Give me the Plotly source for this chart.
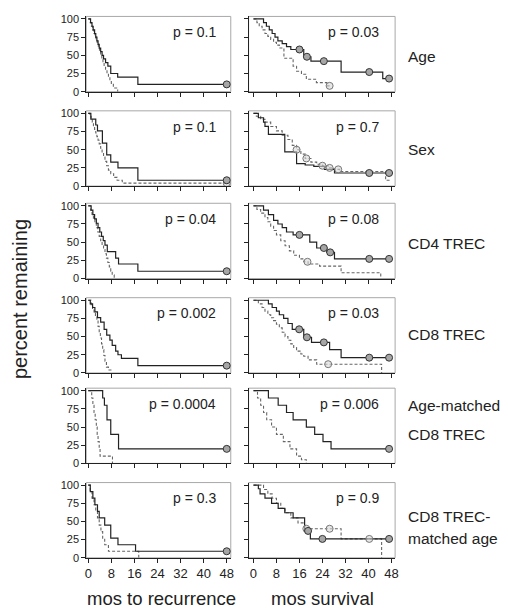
import plotly.graph_objects as go

# page body has an 8px margin: figure is drawn 8px in from the window corner
OFF = 8
W, H = 500, 604
FONT = "Liberation Sans, Arial, sans-serif"

month_ticks = [0, 8, 16, 24, 32, 40, 48]
pct_ticks = [0, 25, 50, 75, 100]

row_labels = [["Age"], ["Sex"], ["CD4 TREC"], ["CD8 TREC"],
              ["Age-matched", "CD8 TREC"], ["CD8 TREC-", "matched age"]]
p_recurrence = ["0.1", "0.1", "0.04", "0.002", "0.0004", "0.3"]
p_survival = ["0.03", "0.7", "0.08", "0.03", "0.006", "0.9"]

# ---- Age ----
age_rec_solid_t = [0, 0.8, 1.3, 1.7, 2.2, 2.6, 3.0, 3.4, 3.8, 4.3, 4.8, 5.3, 6.0, 6.8, 7.8, 10.2, 17.2, 48]
age_rec_solid_s = [100, 95, 90, 85, 80, 75, 70, 65, 60, 55, 50, 45, 40, 35, 25, 20, 10, 10]
age_rec_solid_c = [48]
age_rec_dash_t = [0, 0.7, 1.1, 1.5, 1.9, 2.3, 2.7, 3.1, 3.5, 3.9, 4.3, 4.7, 5.1, 5.5, 6.0, 6.5, 7.0, 7.5, 8.0, 8.7, 10.2]
age_rec_dash_s = [100, 95, 90, 85, 80, 75, 70, 65, 60, 55, 50, 45, 40, 35, 30, 25, 20, 15, 10, 5, 0]
age_rec_dash_c = []

age_surv_solid_t = [0, 3.5, 4.5, 5.5, 6.5, 7.5, 8.5, 10, 11.5, 13, 17.5, 20, 30.5, 45, 48]
age_surv_solid_s = [100, 95, 90, 85, 80, 75, 70, 66, 62, 58, 48, 42, 27, 18, 18]
age_surv_solid_c = [16, 18.6, 24.5, 40.3, 47.2]
age_surv_dash_t = [0, 1.2, 2, 3, 4, 5, 6, 7, 8, 9, 10.6, 13.8, 15, 16.7, 18.4, 21.9, 25.5, 27]
age_surv_dash_s = [100, 95, 90, 85, 80, 76, 72, 68, 64, 60, 46, 35, 28, 24, 17, 12.5, 8, 8]
age_surv_dash_c = [26.5]

# ---- Sex ----
sex_rec_solid_t = [0, 0.9, 2.6, 3.2, 4.9, 6.4, 7.8, 10.3, 17.2, 48]
sex_rec_solid_s = [100, 92, 84, 76, 59, 43, 33, 25, 8, 8]
sex_rec_solid_c = [48]
sex_rec_dash_t = [0, 0.6, 1.0, 1.4, 1.8, 2.2, 2.6, 3.0, 3.4, 3.8, 4.3, 4.8, 5.3, 5.8, 6.4, 7.0, 7.8, 8.8, 10, 11.8, 48]
sex_rec_dash_s = [100, 96, 92, 88, 83, 78, 73, 68, 63, 58, 52, 46, 40, 34, 28, 22, 17, 12, 8, 4, 4]
sex_rec_dash_c = [48]

sex_surv_solid_t = [0, 1.7, 3.5, 4, 5.2, 10.9, 15, 18, 21, 24.7, 28.2, 48]
sex_surv_solid_s = [100, 94, 88, 82, 71, 47, 31, 29, 27, 23, 18, 18]
sex_surv_solid_c = [40.3, 47.2]
sex_surv_dash_t = [0, 1, 2.5, 4, 6, 8, 10, 12, 13.5, 15, 16.5, 18, 20, 22, 24, 26, 28, 30, 46, 48]
sex_surv_dash_s = [100, 96, 92, 88, 82, 76, 70, 64, 56, 50, 44, 38, 33, 30, 28, 25, 23, 20, 8, 8]
sex_surv_dash_c = [15, 18.4, 24, 26.5, 29.5]

# ---- CD4 TREC ----
cd4_rec_solid_t = [0, 1, 1.6, 2.2, 2.8, 3.4, 4.0, 4.6, 5.2, 5.8, 6.6, 9.5, 10.5, 17.2, 48]
cd4_rec_solid_s = [100, 94, 88, 82, 76, 70, 64, 58, 52, 46, 37, 28, 20, 10, 10]
cd4_rec_solid_c = [48]
cd4_rec_dash_t = [0, 0.8, 1.3, 1.8, 2.3, 2.8, 3.3, 3.8, 4.3, 4.8, 5.3, 5.8, 6.3, 6.8, 7.3, 7.8, 8.3, 9.0]
cd4_rec_dash_s = [100, 94, 88, 82, 76, 70, 64, 58, 52, 46, 40, 34, 28, 22, 16, 10, 5, 0]
cd4_rec_dash_c = []

cd4_surv_solid_t = [0, 3.5, 5.2, 7, 8.5, 10, 11.5, 13.8, 19.6, 22, 25.5, 28.2, 48]
cd4_surv_solid_s = [100, 94, 88, 80, 75, 70, 64, 60, 50, 42, 36, 27, 27]
cd4_surv_solid_c = [16, 24.5, 26.7, 40.3, 47.2]
cd4_surv_dash_t = [0, 1.2, 2.5, 4, 5, 6, 7, 8, 9.5, 11, 12.5, 14, 16, 17.5, 19, 23, 30.5, 44.3]
cd4_surv_dash_s = [100, 95, 90, 84, 78, 72, 66, 60, 52, 45, 38, 32, 27, 23, 20, 17, 8, 0]
cd4_surv_dash_c = [18.8]

# ---- CD8 TREC ----
cd8_rec_solid_t = [0, 0.7, 1.5, 2.3, 3.2, 4.3, 5.5, 6.4, 7.5, 8.3, 9.5, 10.3, 11.5, 17.2, 48]
cd8_rec_solid_s = [100, 95, 90, 84, 76, 70, 60, 52, 45, 38, 30, 25, 20, 10, 10]
cd8_rec_solid_c = [48]
cd8_rec_dash_t = [0, 1.0, 1.5, 2.0, 2.5, 3.0, 3.4, 3.8, 4.2, 4.6, 5.0, 5.4, 5.8, 6.3, 7.0, 8.6]
cd8_rec_dash_s = [100, 94, 88, 82, 78, 74, 64, 55, 48, 40, 32, 24, 16, 8, 4, 4]
cd8_rec_dash_c = []

cd8_surv_solid_t = [0, 5.2, 6.5, 8, 9, 10.5, 12, 13.5, 17.5, 20.2, 26.5, 30.5, 48]
cd8_surv_solid_s = [100, 95, 90, 85, 80, 75, 68, 60, 49, 42, 32, 21, 21]
cd8_surv_solid_c = [15.9, 18.6, 24.5, 40.3, 47.2]
cd8_surv_dash_t = [0, 1.7, 3, 4, 5, 6, 7, 8, 9, 10, 11, 12, 13, 14, 15, 16.5, 17.5, 19, 22, 44.6]
cd8_surv_dash_s = [100, 95, 90, 85, 80, 76, 72, 67, 62, 56, 50, 45, 40, 35, 30, 26, 23, 18, 12, 0]
cd8_surv_dash_c = [26]

# ---- Age-matched CD8 TREC ----
am_rec_solid_t = [0, 5.0, 5.6, 6.5, 7.8, 10.5, 48]
am_rec_solid_s = [100, 90, 80, 60, 40, 20, 20]
am_rec_solid_c = [48]
am_rec_dash_t = [0, 1.2, 1.6, 2.0, 2.4, 2.8, 3.1, 3.4, 3.8, 4.1, 8.4]
am_rec_dash_s = [100, 90, 80, 70, 60, 50, 40, 30, 20, 10, 0]
am_rec_dash_c = []

am_surv_solid_t = [0, 5.2, 8.6, 11.5, 13.8, 18.4, 21.3, 24.2, 27, 48]
am_surv_solid_s = [100, 90, 80, 70, 60, 50, 40, 30, 20, 20]
am_surv_solid_c = [47.2]
am_surv_dash_t = [0, 1.4, 2.5, 3.5, 4.6, 6.3, 8, 10.4, 12.7, 15, 16.7, 18.4]
am_surv_dash_s = [100, 90, 80, 70, 60, 50, 40, 30, 20, 10, 5, 0]
am_surv_dash_c = []

# ---- CD8 TREC-matched age ----
ma_rec_solid_t = [0, 0.7, 1.6, 2.3, 3.2, 3.8, 5.7, 7.8, 10.3, 16.4, 48]
ma_rec_solid_s = [100, 91, 82, 73, 64, 55, 45, 27, 18, 9, 9]
ma_rec_solid_c = [48]
ma_rec_dash_t = [0, 0.7, 1.3, 2.0, 2.6, 3.2, 3.8, 4.4, 5.0, 5.7, 7.0, 17.5]
ma_rec_dash_s = [100, 91, 82, 73, 64, 55, 45, 36, 27, 18, 9, 0]
ma_rec_dash_c = []

ma_surv_solid_t = [0, 1.7, 2.3, 4, 6.3, 8.6, 10.9, 13.8, 17.8, 19.8, 48]
ma_surv_solid_s = [100, 95, 88, 82, 75, 68, 62, 55, 37, 26, 26]
ma_surv_solid_c = [19, 24, 47.2]
ma_surv_dash_t = [0, 3.5, 5, 6.5, 8, 9.5, 11, 13, 15.5, 17.8, 30.5, 44.6]
ma_surv_dash_s = [100, 94, 88, 82, 75, 68, 62, 55, 48, 40, 26, 0]
ma_surv_dash_c = [18.4, 26.5, 40.3]

panels = [
    [(age_rec_solid_t, age_rec_solid_s, age_rec_solid_c, age_rec_dash_t, age_rec_dash_s, age_rec_dash_c),
     (age_surv_solid_t, age_surv_solid_s, age_surv_solid_c, age_surv_dash_t, age_surv_dash_s, age_surv_dash_c)],
    [(sex_rec_solid_t, sex_rec_solid_s, sex_rec_solid_c, sex_rec_dash_t, sex_rec_dash_s, sex_rec_dash_c),
     (sex_surv_solid_t, sex_surv_solid_s, sex_surv_solid_c, sex_surv_dash_t, sex_surv_dash_s, sex_surv_dash_c)],
    [(cd4_rec_solid_t, cd4_rec_solid_s, cd4_rec_solid_c, cd4_rec_dash_t, cd4_rec_dash_s, cd4_rec_dash_c),
     (cd4_surv_solid_t, cd4_surv_solid_s, cd4_surv_solid_c, cd4_surv_dash_t, cd4_surv_dash_s, cd4_surv_dash_c)],
    [(cd8_rec_solid_t, cd8_rec_solid_s, cd8_rec_solid_c, cd8_rec_dash_t, cd8_rec_dash_s, cd8_rec_dash_c),
     (cd8_surv_solid_t, cd8_surv_solid_s, cd8_surv_solid_c, cd8_surv_dash_t, cd8_surv_dash_s, cd8_surv_dash_c)],
    [(am_rec_solid_t, am_rec_solid_s, am_rec_solid_c, am_rec_dash_t, am_rec_dash_s, am_rec_dash_c),
     (am_surv_solid_t, am_surv_solid_s, am_surv_solid_c, am_surv_dash_t, am_surv_dash_s, am_surv_dash_c)],
    [(ma_rec_solid_t, ma_rec_solid_s, ma_rec_solid_c, ma_rec_dash_t, ma_rec_dash_s, ma_rec_dash_c),
     (ma_surv_solid_t, ma_surv_solid_s, ma_surv_solid_c, ma_surv_dash_t, ma_surv_dash_s, ma_surv_dash_c)],
]


def step_at(ts, ss, t):
    v = ss[0]
    for ti, si in zip(ts, ss):
        if ti <= t:
            v = si
    return v


def px(x):
    return (x - OFF) / W


def py(y):
    return 1 - (y - OFF) / H


# layout geometry (window pixels)
col_px = [(85, 231), (249, 397)]
col_range = [[-0.7, 49.4], [-1.7, 49.3]]
row_zero_px = [89, 185, 279, 375, 467, 563]
box_h = 76.5
y_range = [0, 103.5]

fig = go.Figure()
layout = {}
shapes = []
annotations = []

for r in range(6):
    for c in range(2):
        idx = r * 2 + c + 1
        xa = "x" if idx == 1 else f"x{idx}"
        ya = "y" if idx == 1 else f"y{idx}"
        xkey = "xaxis" if idx == 1 else f"xaxis{idx}"
        ykey = "yaxis" if idx == 1 else f"yaxis{idx}"
        x0, x1 = col_px[c]
        yb = row_zero_px[r]
        yt = yb - box_h
        layout[xkey] = dict(
            domain=[px(x0), px(x1)], range=col_range[c], anchor=ya,
            tickvals=month_ticks, ticktext=[str(v) for v in month_ticks],
            showticklabels=(r == 5), ticks="outside", ticklen=4, tickwidth=1,
            tickcolor="#222", showline=True, linecolor="#222", linewidth=1,
            showgrid=False, zeroline=False, fixedrange=True,
            tickfont=dict(family=FONT, size=13, color="#222"),
        )
        layout[ykey] = dict(
            domain=[py(yb), py(yt)], range=y_range, anchor=xa,
            tickvals=pct_ticks, ticktext=[str(v) for v in pct_ticks],
            showticklabels=(c == 0), ticks="outside", ticklen=4, tickwidth=1,
            tickcolor="#222", showline=True, linecolor="#222", linewidth=1,
            showgrid=False, zeroline=False, fixedrange=True,
            tickfont=dict(family=FONT, size=11, color="#222"),
        )
        shapes.append(dict(type="rect", xref=f"{xa} domain", yref=f"{ya} domain",
                           x0=0, x1=1, y0=0, y1=1, layer="below",
                           line=dict(color="#a8a8a8", width=1)))
        st, ss, sc, dt, ds, dc = panels[r][c]
        fig.add_trace(go.Scatter(x=dt, y=ds, mode="lines", line_shape="hv",
                                 line=dict(color="#666", width=1.1, dash="3px,2px"),
                                 xaxis=xa, yaxis=ya, showlegend=False, hoverinfo="skip"))
        fig.add_trace(go.Scatter(x=st, y=ss, mode="lines", line_shape="hv",
                                 line=dict(color="#222", width=1.2),
                                 xaxis=xa, yaxis=ya, showlegend=False, hoverinfo="skip"))
        if dc:
            fig.add_trace(go.Scatter(x=dc, y=[step_at(dt, ds, t) for t in dc], mode="markers",
                                     marker=dict(symbol="circle", size=7, color="rgba(215,215,215,0.6)",
                                                 line=dict(color="#777", width=1)),
                                     xaxis=xa, yaxis=ya, showlegend=False, hoverinfo="skip",
                                     cliponaxis=False))
        if sc:
            fig.add_trace(go.Scatter(x=sc, y=[step_at(st, ss, t) for t in sc], mode="markers",
                                     marker=dict(symbol="circle", size=7, color="#a6a6a6",
                                                 line=dict(color="#333", width=1)),
                                     xaxis=xa, yaxis=ya, showlegend=False, hoverinfo="skip",
                                     cliponaxis=False))
        pval = p_recurrence[r] if c == 0 else p_survival[r]
        px_right = 218 if c == 0 else 383
        annotations.append(dict(text=f"p = {pval}", xref="paper", yref="paper",
                                x=px(px_right), y=py(yt + 16), xanchor="right",
                                yanchor="middle", showarrow=False,
                                font=dict(family=FONT, size=14, color="#222")))

# row labels
row_label_y = [[53], [148], [243], [336], [408, 438], [521, 543]]
for lines, ys in zip(row_labels, row_label_y):
    for txt, yy in zip(lines, ys):
        annotations.append(dict(text=txt, xref="paper", yref="paper", x=px(408), y=py(yy),
                                xanchor="left", yanchor="middle", showarrow=False,
                                font=dict(family=FONT, size=15.5, color="#222")))

annotations.append(dict(text="mos to recurrence", xref="paper", yref="paper", x=px(161),
                        y=py(604), xanchor="center", yanchor="middle", showarrow=False,
                        font=dict(family=FONT, size=18.5, color="#222")))
annotations.append(dict(text="mos survival", xref="paper", yref="paper", x=px(324),
                        y=py(604), xanchor="center", yanchor="middle", showarrow=False,
                        font=dict(family=FONT, size=18.5, color="#222")))
annotations.append(dict(text="percent remaining", xref="paper", yref="paper", x=px(18),
                        y=py(300), xanchor="center", yanchor="middle", showarrow=False,
                        textangle=-90, font=dict(family=FONT, size=20, color="#222")))

fig.update_layout(
    width=W, height=H, margin=dict(l=0, r=0, t=0, b=0),
    paper_bgcolor="white", plot_bgcolor="white",
    shapes=shapes, annotations=annotations, **layout,
)

fig.write_html("out.html")
